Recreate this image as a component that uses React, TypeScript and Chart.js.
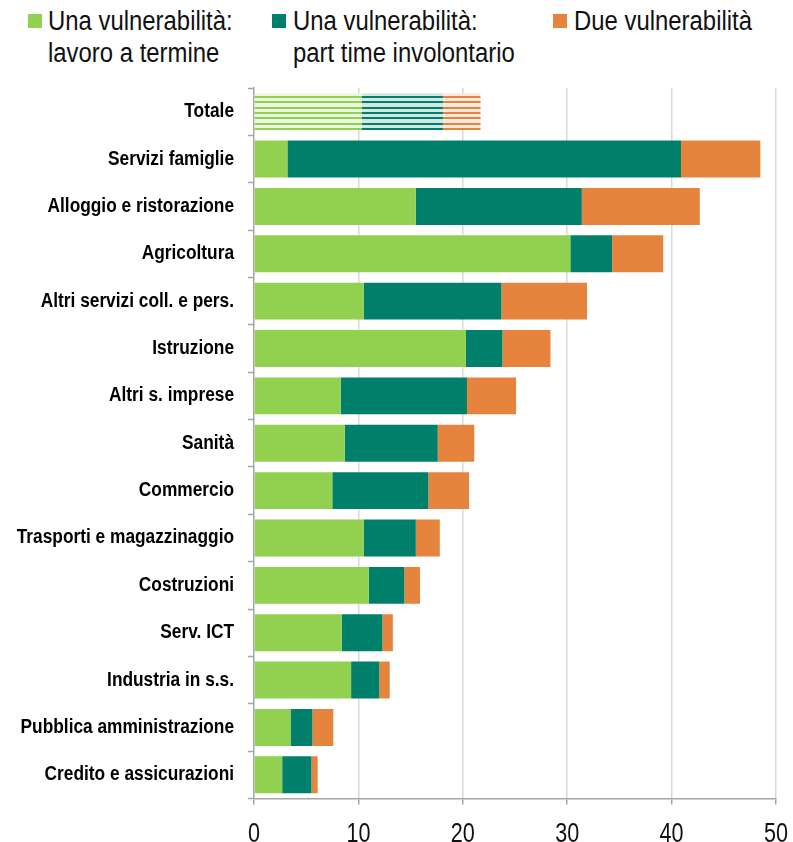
import React, { useEffect, useRef } from "react";
import { Chart, registerables } from "chart.js";

Chart.register(...registerables);

const categories = [
  "Totale",
  "Servizi famiglie",
  "Alloggio e ristorazione",
  "Agricoltura",
  "Altri servizi coll. e pers.",
  "Istruzione",
  "Altri s. imprese",
  "Sanità",
  "Commercio",
  "Trasporti e magazzinaggio",
  "Costruzioni",
  "Serv. ICT",
  "Industria in s.s.",
  "Pubblica amministrazione",
  "Credito e assicurazioni",
];

const lavoroTermine = [10.3, 3.2, 15.5, 30.3, 10.5, 20.3, 8.3, 8.7, 7.5, 10.5, 11.0, 8.4, 9.3, 3.5, 2.7];
const partTimeInvol = [7.8, 37.7, 15.9, 4.0, 13.2, 3.5, 12.1, 8.9, 9.2, 5.0, 3.4, 3.9, 2.7, 2.1, 2.8];
const dueVulner = [3.6, 7.6, 11.3, 4.9, 8.2, 4.6, 4.7, 3.5, 3.9, 2.3, 1.5, 1.0, 1.0, 2.0, 0.6];

const xTicks = [0, 10, 20, 30, 40, 50];

const seriesNames = [
  ["Una vulnerabilità:", "lavoro a termine"],
  ["Una vulnerabilità:", "part time involontario"],
  ["Due vulnerabilità"],
];

const GREEN = "#92D050";
const TEAL = "#00806A";
const ORANGE = "#E6843E";
const colors = [GREEN, TEAL, ORANGE];
const FONT = "'Liberation Sans', Arial, sans-serif";

function makeStripe(ctx: CanvasRenderingContext2D, color: string) {
  const c = document.createElement("canvas");
  c.width = 4;
  c.height = 16;
  const g = c.getContext("2d")!;
  g.fillStyle = "#ffffff";
  g.fillRect(0, 0, 4, 16);
  g.globalAlpha = 0.18;
  g.fillStyle = color;
  g.fillRect(0, 0, 4, 16);
  g.globalAlpha = 1;
  for (const r of [0, 5, 11]) g.fillRect(0, r, 4, 2);
  return ctx.createPattern(c, "repeat") as CanvasPattern;
}

// Draws axis labels in a condensed (Arial Narrow-like) style
const narrowLabels = {
  id: "narrowLabels",
  afterDraw(chart: any) {
    const ctx = chart.ctx as CanvasRenderingContext2D;
    const y = chart.scales.y;
    const x = chart.scales.x;
    ctx.save();
    ctx.fillStyle = "#000";
    ctx.font = `bold 20px ${FONT}`;
    ctx.textAlign = "right";
    ctx.textBaseline = "middle";
    categories.forEach((lab, i) => {
      const yy = y.getPixelForValue(i);
      ctx.save();
      ctx.translate(234, yy);
      ctx.scale(0.865, 1);
      ctx.fillText(lab, 0, 0);
      ctx.restore();
    });
    ctx.fillStyle = "#111";
    ctx.font = `27px ${FONT}`;
    ctx.textAlign = "center";
    ctx.textBaseline = "alphabetic";
    xTicks.forEach((v) => {
      const xx = x.getPixelForValue(v);
      ctx.save();
      ctx.translate(xx, 842);
      ctx.scale(0.8, 1);
      ctx.fillText(String(v), 0, 0);
      ctx.restore();
    });
    ctx.restore();
  },
};

export default function App() {
  const ref = useRef<HTMLCanvasElement>(null);

  useEffect(() => {
    const canvas = ref.current!;
    const ctx = canvas.getContext("2d")!;
    const values = [lavoroTermine, partTimeInvol, dueVulner];
    const datasets = values.map((vals, k) => {
      const pat = makeStripe(ctx, colors[k]);
      return {
        label: seriesNames[k].join(" "),
        data: vals,
        backgroundColor: categories.map((_, i) => (i === 0 ? pat : colors[k])),
        borderWidth: 0,
        barPercentage: 0.78,
        categoryPercentage: 1,
      };
    });
    const chart = new Chart(canvas, {
      type: "bar",
      data: { labels: categories, datasets: datasets as any },
      plugins: [narrowLabels],
      options: {
        indexAxis: "y",
        responsive: false,
        animation: false,
        layout: { padding: { top: 88, right: 17, left: 0, bottom: 0 } },
        plugins: { legend: { display: false }, tooltip: { enabled: false } },
        scales: {
          x: {
            stacked: true,
            min: 0,
            max: 50,
            afterBuildTicks: (s: any) => {
              s.ticks = xTicks.map((v) => ({ value: v }));
            },
            ticks: { display: false },
            grid: {
              color: (c: any) => (c.index === 0 ? "rgba(0,0,0,0)" : "#d9d9d9"),
              lineWidth: 1.5,
              tickLength: 6,
              tickColor: "#a6a6a6",
              tickWidth: 1.5,
            },
            border: { color: "#a6a6a6", width: 1.5 },
            afterFit: (s: any) => {
              s.height = 43.5;
            },
          },
          y: {
            stacked: true,
            ticks: { display: false },
            grid: {
              drawOnChartArea: false,
              tickLength: 6,
              tickColor: "#a6a6a6",
              tickWidth: 1.5,
              offset: true,
            },
            border: { color: "#a6a6a6", width: 1.5 },
            afterFit: (s: any) => {
              s.width = 254;
            },
          },
        },
      } as any,
    });
    return () => chart.destroy();
  }, []);

  const legendPos = [
    { box: 28, text: 48 },
    { box: 272, text: 293 },
    { box: 553, text: 574 },
  ];

  return (
    <div style={{ position: "absolute", left: 0, top: 0, width: 793, height: 842, background: "#fff" }}>
      {seriesNames.map((lines, k) => (
        <React.Fragment key={k}>
          <div
            style={{
              position: "absolute",
              left: legendPos[k].box,
              top: 14,
              width: 14,
              height: 14,
              background: colors[k],
            }}
          />
          <div
            style={{
              position: "absolute",
              left: legendPos[k].text,
              top: 5,
              fontFamily: FONT,
              fontSize: 27,
              lineHeight: "32px",
              color: "#111",
              whiteSpace: "nowrap",
              transform: "scaleX(0.885)",
              transformOrigin: "left top",
            }}
          >
            {lines.map((l, j) => (
              <div key={j}>{l}</div>
            ))}
          </div>
        </React.Fragment>
      ))}
      <canvas ref={ref} width={793} height={842} style={{ position: "absolute", left: 0, top: 0 }} />
    </div>
  );
}
